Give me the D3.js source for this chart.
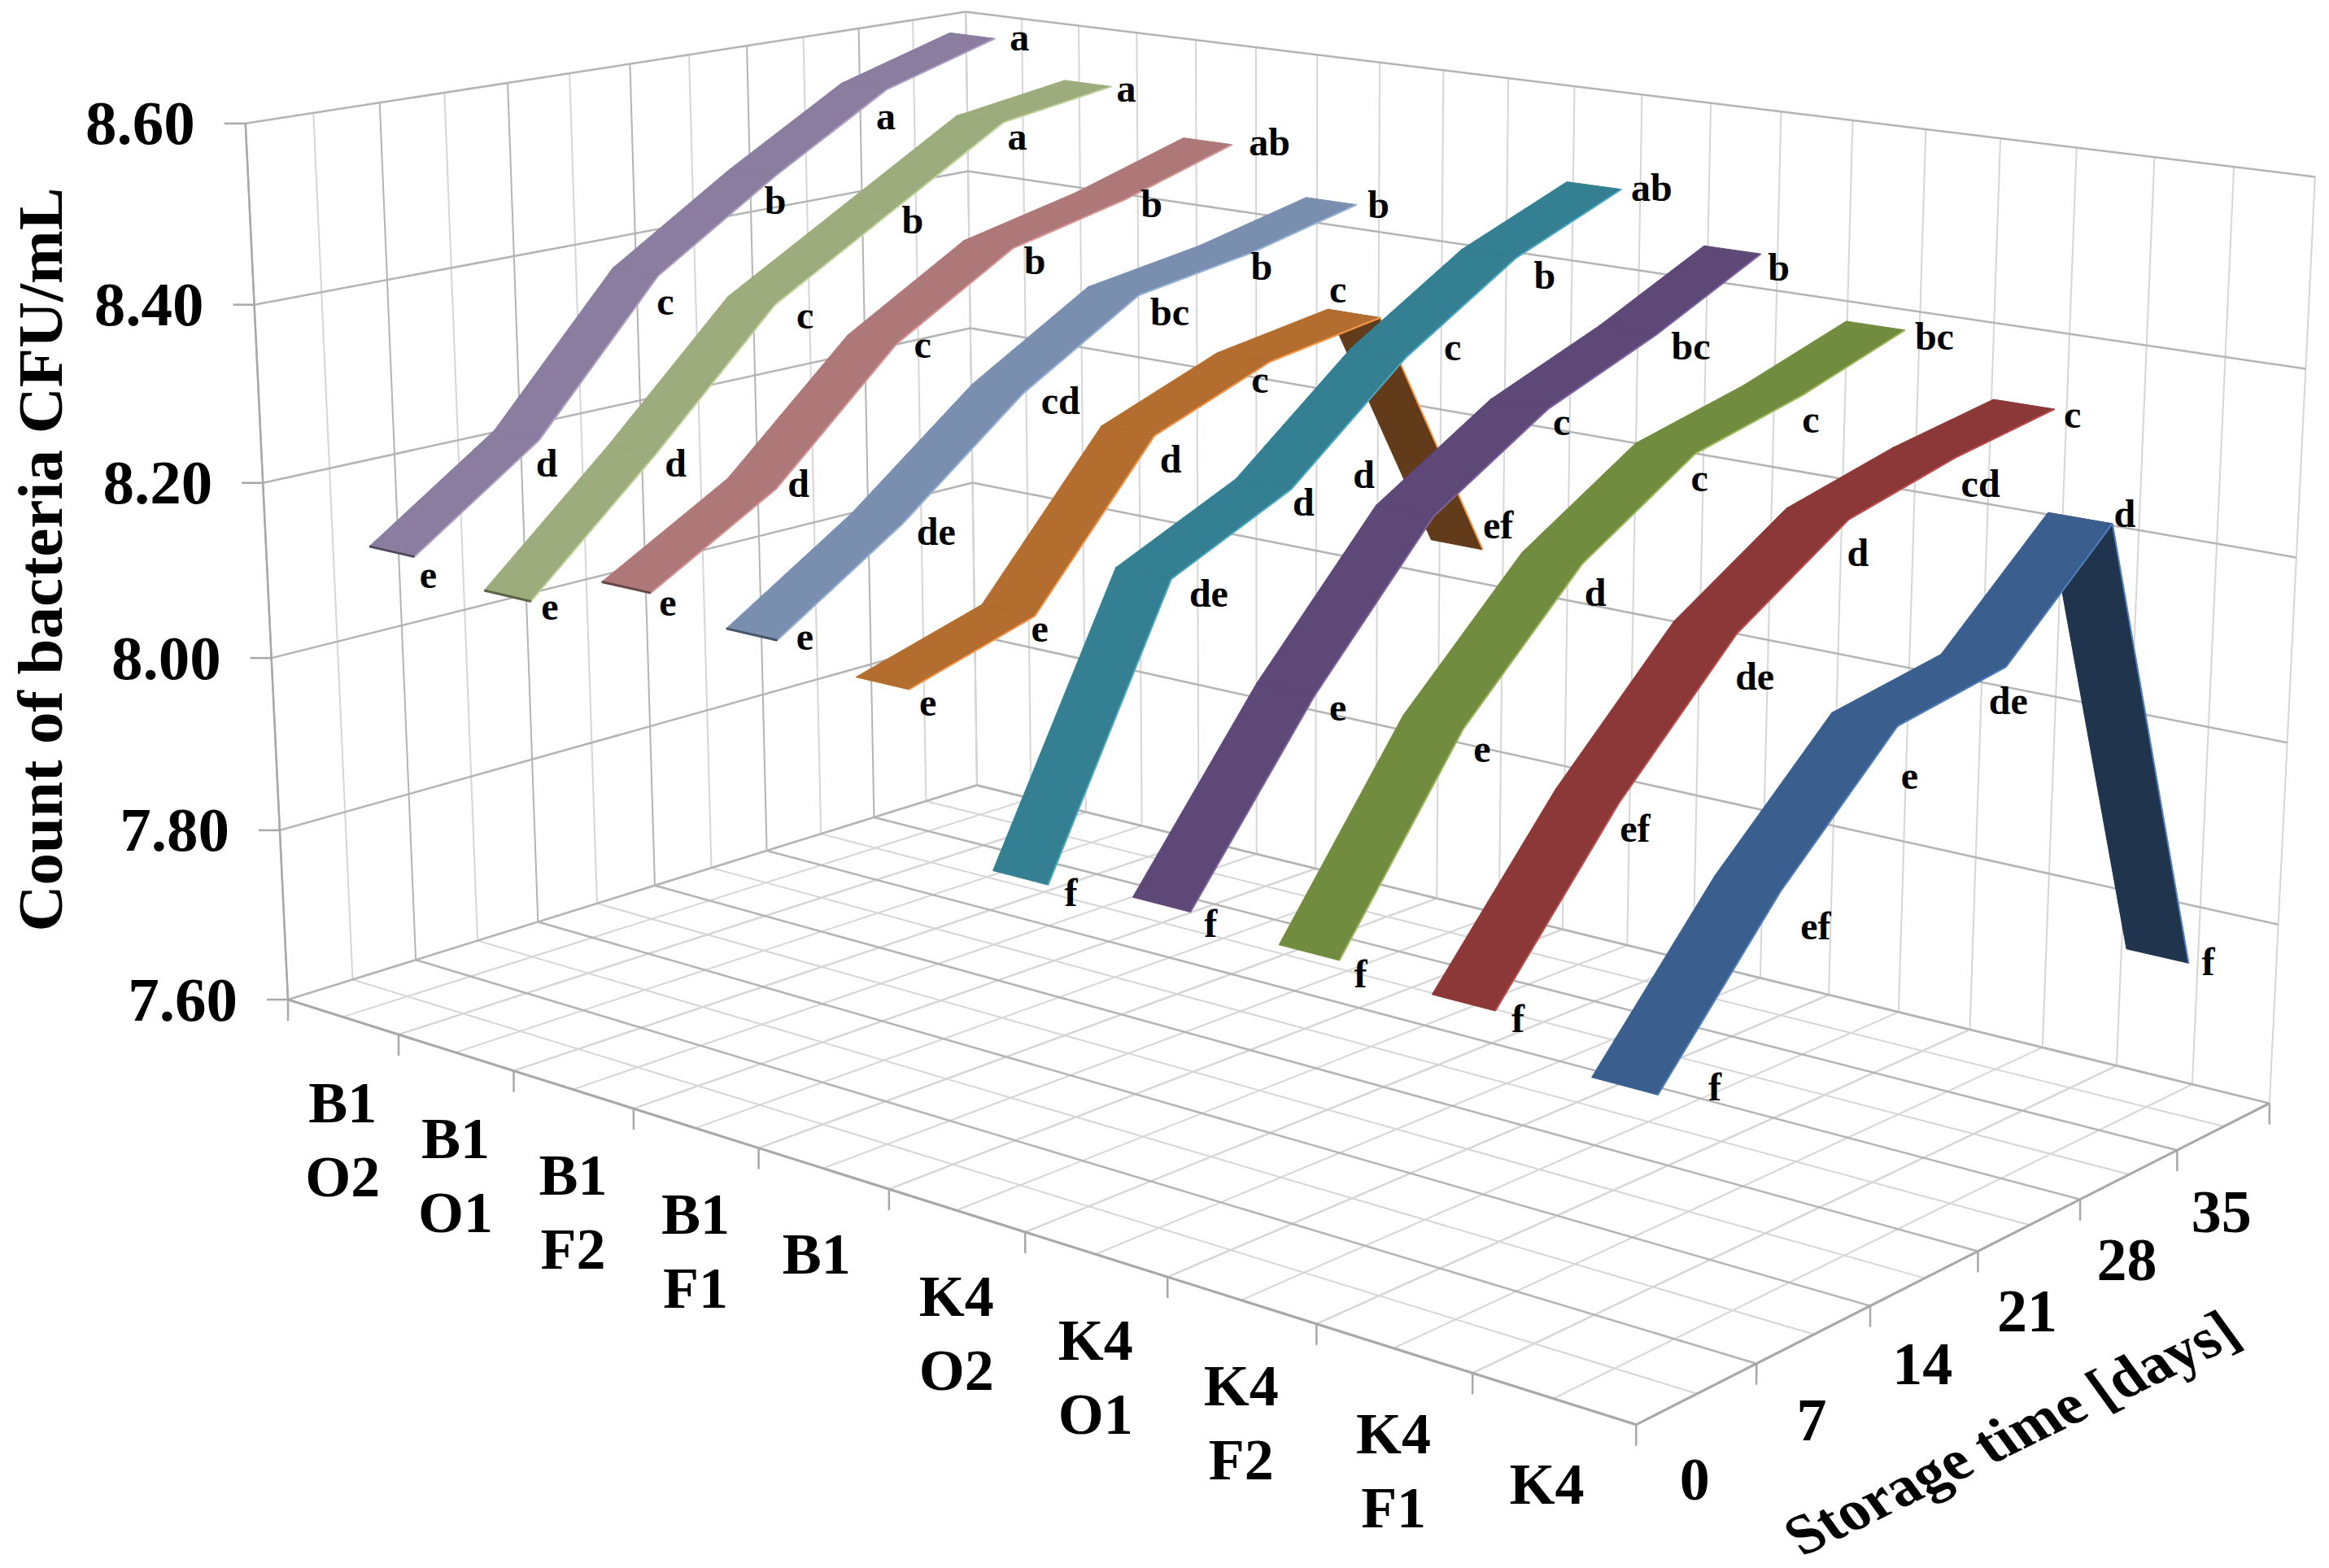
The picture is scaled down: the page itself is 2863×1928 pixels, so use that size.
<!DOCTYPE html>
<html>
<head>
<meta charset="utf-8">
<title>Count of bacteria during storage</title>
<script src="https://cdn.jsdelivr.net/npm/d3@7"></script>
<style>
    body { margin: 0; background: #fff; }
    text { font-family: "Liberation Serif", serif; font-weight: bold; fill: #000; }
</style>
</head>
<body>
<svg id="chart" width="2863" height="1928"></svg>
<script>
const categories = ["B1 O2", "B1 O1", "B1 F2", "B1 F1", "B1", "K4 O2", "K4 O1", "K4 F2", "K4 F1", "K4"];
const days = [0, 7, 14, 21, 28, 35];

const b1o2 = [8.12, 8.22, 8.38, 8.47, 8.55, 8.59];
const b1o1 = [8.10, 8.23, 8.37, 8.45, 8.53, 8.55];
const b1f2 = [8.14, 8.22, 8.35, 8.43, 8.46, 8.50];
const b1f1 = [8.12, 8.21, 8.32, 8.40, 8.42, 8.45];
const b1 = [8.10, 8.14, 8.30, 8.35, 8.37, 8.07];
const k4o2 = [7.93, 8.21, 8.27, 8.38, 8.46, 8.51];
const k4o1 = [7.94, 8.12, 8.27, 8.35, 8.40, 8.46];
const k4f2 = [7.93, 8.12, 8.25, 8.33, 8.36, 8.40];
const k4f1 = [7.92, 8.08, 8.21, 8.29, 8.32, 8.34];
const k4 = [7.88, 8.03, 8.15, 8.17, 8.28, 7.77];
const seriesValues = [b1o2, b1o1, b1f2, b1f1, b1, k4o2, k4o1, k4f2, k4f1, k4];

// significance letters next to each point
const letters = [
    ["e", "d", "c", "b", "a", "a"],
    ["e", "d", "c", "b", "a", "a"],
    ["e", "d", "c", "b", "b", "ab"],
    ["e", "de", "cd", "bc", "b", "b"],
    ["e", "e", "d", "c", "c", "ef"],
    ["f", "de", "d", "c", "b", "ab"],
    ["f", "e", "d", "c", "bc", "b"],
    ["f", "e", "d", "c", "c", "bc"],
    ["f", "ef", "de", "d", "cd", "c"],
    ["f", "ef", "e", "de", "d", "f"]
];

const surfaceColors = ["#8a7d9f", "#9cac7c", "#ae7878", "#7a8fb0", "#b26d2f", "#347f92", "#5e4878", "#728c3f", "#8d3838", "#3a5f8f"];
const edgeColors = ["#b3a2c7", "#c3d69b", "#d99694", "#95b3d7", "#f79646", "#4bacc6", "#8064a2", "#9bbb59", "#c0504d", "#4f81bd"];

// hand placed letters, offset from the right hand corner of the ribbon
const letterNudge = [
    [[17, 24], [9, 31], [9, 33], [1, 31], [-1, 34], [30, 0]],
    [[23, 8], [25, 12], [37, 15], [26, 12], [17, 19], [18, 4]],
    [[21, 13], [27, -4], [32, 3], [27, 17], [33, 7], [46, -1]],
    [[34, -3], [41, 12], [46, 11], [38, 23], [14, 18], [27, 2]],
    [[23, 18], [6, 17], [20, 31], [-12, 24], [-52, -33], [19, -28]],
    [[28, 11], [46, 20], [15, 18], [57, -11], [35, 24], [37, 0]],
    [[25, 16], [29, 16], [-86, -49], [17, 17], [42, 16], [22, 18]],
    [[26, 19], [23, 26], [16, 37], [5, 32], [10, 32], [36, 10]],
    [[28, 12], [20, 33], [22, 55], [11, 43], [32, 33], [22, 9]],
    [[70, -8], [43, 45], [15, 63], [3, 43], [15, -10], [24, 0]]
];

const svg = d3.select("#chart");

// scales into the unit box: u across the series, v along time, h up
const uScale = d3.scaleBand().domain(categories).range([0, 10]);
const vScale = d3.scaleBand().domain(days).range([0, 6]);
const hScale = d3.scaleLinear().domain([7.6, 8.6]).range([0, 1]);
const valueTicks = d3.range(7.6, 8.61, 0.2);
const ribbonWidth = 0.4;
const ribbonShift = 0.03; // ribbons sit a touch right of the band centre

// camera fitted to the box corners [u, v, h, x, y]
const boxCorners = [
    [0, 0, 0, 354, 1228], [10, 0, 0, 2011, 1753], [10, 6, 0, 2790, 1355], [0, 6, 0, 1201, 967],
    [0, 6, 1, 1187, 14], [0, 0, 1, 302, 152], [10, 6, 1, 2846, 218]
];

function solve(A, b) {
    const M = A.map((r, i) => [...r, b[i]]);
    const n = M.length;
    for (let i = 0; i < n; i++) {
        let p = i;
        for (let k = i; k < n; k++) if (Math.abs(M[k][i]) > Math.abs(M[p][i])) p = k;
        [M[i], M[p]] = [M[p], M[i]];
        for (let k = 0; k < n; k++) {
            if (k === i) continue;
            const f = M[k][i] / M[i][i];
            for (let j = i; j <= n; j++) M[k][j] -= f * M[i][j];
        }
    }
    return M.map((r, i) => r[n] / r[i]);
}

const rows = [], rhs = [];
boxCorners.forEach(([u, v, h, x, y]) => {
    rows.push([u, v, h, 1, 0, 0, 0, 0, -x * u / 1000, -x * v / 1000, -x * h / 1000]);
    rhs.push(x / 1000);
    rows.push([0, 0, 0, 0, u, v, h, 1, -y * u / 1000, -y * v / 1000, -y * h / 1000]);
    rhs.push(y / 1000);
});
const cam = solve(
    d3.range(11).map(i => d3.range(11).map(j => d3.sum(rows, r => r[i] * r[j]))),
    d3.range(11).map(i => d3.sum(rows, (r, k) => r[i] * rhs[k]))
);

function project(u, v, h) {
    const w = cam[8] * u + cam[9] * v + cam[10] * h + 1;
    return [
        1000 * (cam[0] * u + cam[1] * v + cam[2] * h + cam[3]) / w,
        1000 * (cam[4] * u + cam[5] * v + cam[6] * h + cam[7]) / w
    ];
}

const path = d3.line();

function drawLine(a, b, color, width) {
    svg.append("path")
        .attr("d", path([a, b]))
        .attr("fill", "none")
        .attr("stroke", color)
        .attr("stroke-width", width);
}

const major = "#b4b4b4", minor = "#d6d6d6", axisColor = "#a8a8a8";
const halves = (n) => d3.range(0, n + 0.01, 0.5);

// floor
halves(10).filter(u => u % 1).forEach(u => drawLine(project(u, 0, 0), project(u, 6, 0), minor, 2));
halves(6).filter(v => v % 1).forEach(v => drawLine(project(0, v, 0), project(10, v, 0), minor, 2));
d3.range(0, 11).forEach(u => drawLine(project(u, 0, 0), project(u, 6, 0), minor, 2.5));
d3.range(0, 7).forEach(v => drawLine(project(0, v, 0), project(10, v, 0), major, 2.5));

// left wall
halves(6).forEach(v => drawLine(project(0, v, 0), project(0, v, 1), v % 1 ? minor : major, 2));
// back wall
halves(10).forEach(u => drawLine(project(u, 6, 0), project(u, 6, 1), minor, 2));
valueTicks.forEach(t => {
    const h = hScale(t);
    drawLine(project(0, 0, h), project(0, 6, h), major, 2.5);
    drawLine(project(0, 6, h), project(10, 6, h), major, 2.5);
});

// axis lines and ticks
drawLine(project(0, 0, 0), project(0, 0, 1), axisColor, 2.5);
drawLine(project(0, 0, 0), project(10, 0, 0), axisColor, 3);
drawLine(project(10, 0, 0), project(10, 6, 0), axisColor, 3);
d3.range(0, 11).forEach(u => {
    const p = project(u, 0, 0);
    drawLine(p, [p[0], p[1] + 26], axisColor, 2.5);
});
d3.range(1, 7).forEach(v => {
    const p = project(10, v, 0);
    drawLine(p, [p[0], p[1] + 26], axisColor, 2.5);
});
valueTicks.forEach(t => {
    const p = project(0, 0, hScale(t));
    drawLine(p, [p[0] - 26, p[1]], axisColor, 2.5);
});

// ribbons, furthest first so the near ones cover them
seriesValues.forEach((values, i) => {
    const u = uScale(categories[i]) + uScale.bandwidth() / 2 + ribbonShift;
    const sides = values.map((value, j) => {
        const v = vScale(days[j]) + vScale.bandwidth() / 2;
        return {
            left: project(u - ribbonWidth / 2, v, hScale(value)),
            right: project(u + ribbonWidth / 2, v, hScale(value))
        };
    });
    const surface = d3.color(surfaceColors[i]);

    for (let j = values.length - 2; j >= 0; j--) {
        const quad = [sides[j].left, sides[j].right, sides[j + 1].right, sides[j + 1].left];
        // a quad that flips over on screen shows its underside
        const under = d3.polygonArea(quad) < 0;
        svg.append("path")
            .attr("d", path(quad) + "Z")
            .attr("fill", under ? surface.darker(1.7) : surface)
            .attr("stroke", under ? surface.darker(1.7) : surface)
            .attr("stroke-width", 1);
        if (j > 0 && !under) {
            drawLine(sides[j].left, sides[j].right, surface.darker(0.15), 2);
        }
        drawLine(sides[j].right, sides[j + 1].right, edgeColors[i], 2);
    }
    // only the flat far ribbons show their thin front edge
    if (i < 4) drawLine(sides[0].left, sides[0].right, surface.darker(1.5), 3);

    svg.append("g")
        .selectAll("text")
        .data(letters[i])
        .join("text")
        .attr("x", (d, j) => sides[j].right[0] + letterNudge[i][j][0])
        .attr("y", (d, j) => sides[j].right[1] + letterNudge[i][j][1])
        .attr("dy", "0.3em")
        .attr("text-anchor", "middle")
        .style("font-size", "48px")
        .text(d => d);
});

// value axis labels
svg.append("g")
    .selectAll("text")
    .data(valueTicks)
    .join("text")
    .attr("x", d => project(0, 0, hScale(d))[0] - 62)
    .attr("y", d => project(0, 0, hScale(d))[1])
    .attr("dy", "0.33em")
    .attr("text-anchor", "end")
    .style("font-size", "77px")
    .text(d3.format(".2f"));

// category labels, the treatment code wraps on to a second line
categories.forEach((name, i) => {
    const p = project(uScale(name) + uScale.bandwidth() / 2, 0, 0);
    const parts = name.split(" ");
    const label = svg.append("text")
        .attr("text-anchor", "middle")
        .style("font-size", "72px");
    parts.forEach((part, k) => {
        label.append("tspan")
            .attr("x", p[0] - (parts.length === 1 ? 8 : 0))
            .attr("y", p[1] + 106 + k * 91)
            .attr("dy", "0.33em")
            .text(part);
    });
});

// time labels
svg.append("g")
    .selectAll("text")
    .data(days)
    .join("text")
    .attr("x", d => project(10, vScale(d) + vScale.bandwidth() / 2, 0)[0] - 3)
    .attr("y", d => project(10, vScale(d) + vScale.bandwidth() / 2, 0)[1] + 106)
    .attr("dy", "0.33em")
    .attr("text-anchor", "middle")
    .style("font-size", "74px")
    .text(d => d);

svg.append("text")
    .attr("transform", "translate(50,688) rotate(-90)")
    .attr("dy", "0.33em")
    .attr("text-anchor", "middle")
    .style("font-size", "79px")
    .text("Count of bacteria CFU/mL");

svg.append("text")
    .attr("transform", "translate(2487,1782) rotate(-26) skewX(10)")
    .attr("text-anchor", "middle")
    .style("font-size", "73px")
    .text("Storage time [days]");
</script>
</body>
</html>
